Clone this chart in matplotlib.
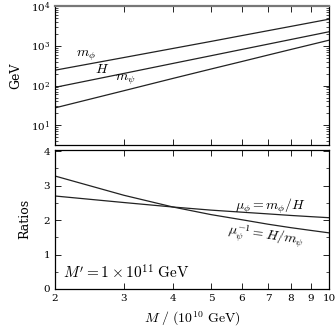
import matplotlib
matplotlib.use("Agg")
import matplotlib.pyplot as plt
from matplotlib.ticker import FixedLocator, FixedFormatter, LogLocator, NullFormatter, MultipleLocator
import numpy as np

# Data
M = [2, 3, 4, 5, 6, 7, 8, 9, 10]                      # M / (1e10 GeV)
H = [90, 202, 360, 562, 810, 1102, 1440, 1822, 2250]  # GeV
mu_phi = [2.70, 2.51, 2.38, 2.29, 2.23, 2.18, 2.135, 2.10, 2.07]      # m_phi / H
mu_psi_inv = [3.28, 2.72, 2.38, 2.16, 2.01, 1.88, 1.78, 1.70, 1.63]  # H / m_psi
xtick_vals = [2, 3, 4, 5, 6, 7, 8, 9, 10]
xtick_labels = ["2", "3", "4", "5", "6", "7", "8", "9", "10"]

Ma = np.array(M, float)
Ha = np.array(H, float)
m_phi = np.array(mu_phi) * Ha
m_psi = Ha / np.array(mu_psi_inv)

plt.rcParams['mathtext.fontset'] = 'cm'
plt.rcParams['font.family'] = 'serif'
plt.rcParams['font.serif'] = ['DejaVu Serif']

fig = plt.figure(figsize=(3.36, 3.31), dpi=100)
W, Hh = 336, 331
l, r = 55 / W, 329 / W
ax1 = fig.add_axes([l, 1 - 145 / Hh, r - l, (145 - 6) / Hh])
ax2 = fig.add_axes([l, 1 - 289 / Hh, r - l, (289 - 149.5) / Hh])

lw = 0.9
ax1.plot(Ma, m_phi, color='#222222', lw=lw)
ax1.plot(Ma, Ha, color='#222222', lw=lw)
ax1.plot(Ma, m_psi, color='#222222', lw=lw)
ax1.set_xscale('log')
ax1.set_yscale('log')
ax1.set_xlim(2, 10)
ax1.set_ylim(3.2, 1e4)
ax1.yaxis.set_major_locator(LogLocator(base=10, numticks=10))
ax1.yaxis.set_minor_locator(LogLocator(base=10, subs=np.arange(2, 10), numticks=20))
ax1.yaxis.set_minor_formatter(NullFormatter())
ax1.xaxis.set_major_locator(FixedLocator(xtick_vals))
ax1.xaxis.set_minor_locator(FixedLocator([]))
ax1.xaxis.set_major_formatter(NullFormatter())
ax1.set_ylabel("GeV", fontsize=9, labelpad=6)

ax1.text(0.113, 0.64, r"$m_\phi$", transform=ax1.transAxes, fontsize=10, ha='center', va='center')
ax1.text(0.172, 0.547, r"$H$", transform=ax1.transAxes, fontsize=10, ha='center', va='center')
ax1.text(0.255, 0.468, r"$m_\psi$", transform=ax1.transAxes, fontsize=10, ha='center', va='center')

ax2.plot(Ma, mu_phi, color='#222222', lw=lw)
ax2.plot(Ma, mu_psi_inv, color='#222222', lw=lw)
ax2.set_xscale('log')
ax2.set_xlim(2, 10)
ax2.set_ylim(0, 4.05)
ax2.yaxis.set_major_locator(MultipleLocator(1))
ax2.yaxis.set_minor_locator(MultipleLocator(0.5))
ax2.xaxis.set_major_locator(FixedLocator(xtick_vals))
ax2.xaxis.set_major_formatter(FixedFormatter(xtick_labels))
ax2.xaxis.set_minor_locator(FixedLocator([]))
ax2.set_ylabel("Ratios", fontsize=9, labelpad=9)
ax2.set_xlabel(r"$M\ /\ (10^{10}\ \mathrm{GeV})$", fontsize=10, labelpad=5)

ax2.text(0.785, 0.595, r"$\mu_\phi = m_\phi/H$", transform=ax2.transAxes, fontsize=10, ha='center', va='center')
ax2.text(0.77, 0.373, r"$\mu_\psi^{-1} = H/m_\psi$", transform=ax2.transAxes, fontsize=10,
         ha='center', va='center', rotation=-8)
ax2.text(0.03, 0.115, r"$M' = 1\times10^{11}\ \mathrm{GeV}$", transform=ax2.transAxes, fontsize=11,
         ha='left', va='center')

for ax in (ax1, ax2):
    ax.tick_params(which='both', direction='in', top=True, right=True, labelsize=7.5)
    ax.tick_params(which='major', length=4, width=0.6)
    ax.tick_params(which='minor', length=2.2, width=0.5)
    for s in ax.spines.values():
        s.set_linewidth(0.9)
ax1.spines['top'].set_color('#777777')
ax1.spines['top'].set_linewidth(1.6)

fig.savefig("out.png", dpi=100)
